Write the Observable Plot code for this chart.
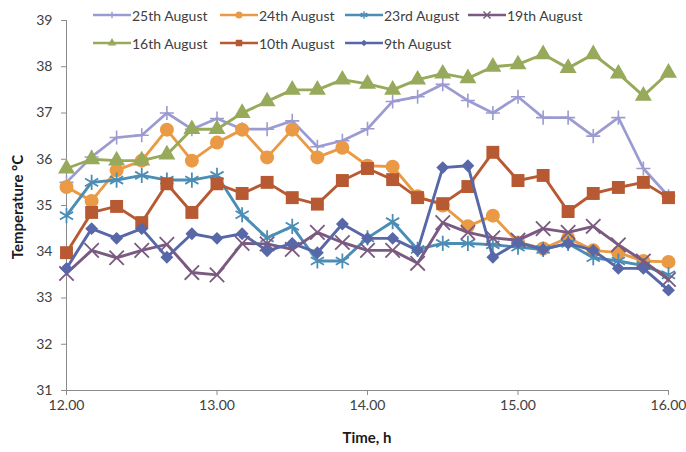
<!DOCTYPE html>
<html>
<head>
<meta charset="utf-8">
<script src="https://cdn.jsdelivr.net/npm/d3@7"></script>
<script src="https://cdn.jsdelivr.net/npm/@observablehq/plot@0.6"></script>
<style>
  body { margin: 0; background: #fff; }
  #chart { position: relative; width: 686px; height: 452px; font-family: Lato, "Open Sans", sans-serif; overflow: hidden; }
  #chart svg.plot { position: absolute; left: 0; top: 0; }
  .legend-item { position: absolute; display: flex; align-items: center; font-size: 14px; color: #404040; white-space: nowrap; }
  .legend-item svg { margin-right: 1px; }
  .axis-title { position: absolute; font-size: 15px; font-weight: bold; color: #1a1a1a; white-space: nowrap; }
</style>
</head>
<body>
<div id="chart"></div>
<script>
// Sampling times (decimal hours, every 10 minutes)
const times = [12.000, 12.167, 12.333, 12.500, 12.667, 12.833,
               13.000, 13.167, 13.333, 13.500, 13.667, 13.833,
               14.000, 14.167, 14.333, 14.500, 14.667, 14.833,
               15.000, 15.167, 15.333, 15.500, 15.667, 15.833, 16.000];

// Temperatures (°C) per measurement day
const aug25 = [35.5, 36.05, 36.47, 36.52, 37.0, 36.65, 36.88, 36.65, 36.65, 36.83, 36.27, 36.4, 36.66,
               37.25, 37.35, 37.62, 37.27, 37.0, 37.35, 36.9, 36.9, 36.5, 36.9, 35.8, 35.2];
const aug24 = [35.4, 35.1, 35.76, 35.97, 36.64, 35.97, 36.36, 36.64, 36.04, 36.64, 36.04, 36.25, 35.86,
               35.84, 35.2, 35.0, 34.55, 34.78, 34.2, 34.07, 34.3, 34.03, 33.98, 33.8, 33.78];
const aug23 = [34.78, 35.5, 35.55, 35.65, 35.55, 35.55, 35.65, 34.8, 34.3, 34.55, 33.8, 33.8, 34.3,
               34.65, 34.05, 34.18, 34.18, 34.15, 34.1, 34.05, 34.18, 33.87, 33.8, 33.7, 33.5];
const aug19 = [33.53, 34.03, 33.87, 34.03, 34.16, 33.55, 33.5, 34.18, 34.17, 34.05, 34.42, 34.2, 34.03,
               34.03, 33.75, 34.63, 34.42, 34.3, 34.25, 34.5, 34.42, 34.55, 34.15, 33.8, 33.4];
const aug16 = [35.8, 36.0, 35.97, 35.97, 36.1, 36.65, 36.65, 37.0, 37.25, 37.5, 37.5, 37.72, 37.63,
               37.5, 37.72, 37.85, 37.75, 38.0, 38.05, 38.27, 37.97, 38.27, 37.85, 37.37, 37.87];
const aug10 = [33.98, 34.85, 34.98, 34.63, 35.47, 34.85, 35.47, 35.26, 35.5, 35.17, 35.03, 35.54, 35.8,
               35.56, 35.17, 35.04, 35.41, 36.15, 35.54, 35.65, 34.87, 35.26, 35.39, 35.5, 35.17];
const aug9  = [33.64, 34.5, 34.29, 34.5, 33.88, 34.39, 34.29, 34.39, 34.02, 34.18, 33.98, 34.6, 34.29,
               34.29, 34.03, 35.82, 35.86, 33.88, 34.2, 34.05, 34.18, 34.03, 33.64, 33.64, 33.17];

const seriesNames = ["25th August", "24th August", "23rd August", "19th August",
                     "16th August", "10th August", "9th August"];
const seriesValues = [aug25, aug24, aug23, aug19, aug16, aug10, aug9];

const xTicks = [12, 13, 14, 15, 16];
const yTicks = [31, 32, 33, 34, 35, 36, 37, 38, 39];

// Drawing style for each series (colour, marker)
const styles = [
  {color: "#9b9bd2", symbol: "plus",     r: 4.6, filled: false, mw: 1.6, lw: 2.7},
  {color: "#ea9a44", symbol: "circle",   r: 7.0, filled: true,  lw: 2.9},
  {color: "#4b8db5", symbol: "asterisk", r: 7.2, filled: false, mw: 1.8, lw: 2.9},
  {color: "#7a5a80", symbol: "times",    r: 6.6, filled: false, mw: 1.8, lw: 2.9},
  {color: "#97a95a", symbol: "triangle", r: 6.3, filled: true,  lw: 2.9},
  {color: "#b75a33", symbol: "square",   r: 7.3, filled: true,  lw: 2.9},
  {color: "#5767a8", symbol: "diamond2", r: 5.8, filled: true,  lw: 2.9}
];

const axisGray = "#8c8c8c";

const marks = [
  Plot.ruleY([31], {stroke: axisGray, strokeWidth: 1}),
  Plot.ruleX([12], {stroke: axisGray, strokeWidth: 1}),
  Plot.axisX({ticks: xTicks, tickSize: 5, tickPadding: 5, stroke: axisGray, fill: "#404040",
              tickFormat: d => d.toFixed(2), label: null}),
  Plot.axisY({ticks: yTicks, tickSize: 5, tickPadding: 9, stroke: axisGray, fill: "#404040", label: null})
];

seriesValues.forEach((vals, k) => {
  const rows = vals.map((v, i) => ({t: times[i], v}));
  const s = styles[k];
  marks.push(Plot.line(rows, {x: "t", y: "v", stroke: s.color, strokeWidth: s.lw, strokeLinejoin: "round"}));
  marks.push(Plot.dot(rows, s.filled
    ? {x: "t", y: "v", symbol: s.symbol, r: s.r, fill: s.color, stroke: "none"}
    : {x: "t", y: "v", symbol: s.symbol, r: s.r, fill: "none", stroke: s.color, strokeWidth: s.mw}));
});

const chart = Plot.plot({
  width: 686,
  height: 452,
  marginLeft: 66,
  marginRight: 18,
  marginTop: 20,
  marginBottom: 62,
  style: {fontFamily: "Lato, 'Open Sans', sans-serif", fontSize: "14px", color: "#404040", background: "transparent", overflow: "visible"},
  x: {domain: [12, 16], label: null},
  y: {domain: [31, 39], label: null},
  marks
});
chart.classList.add("plot");

const root = document.getElementById("chart");
root.appendChild(chart);

// Axis titles
const xTitle = document.createElement("div");
xTitle.className = "axis-title";
xTitle.textContent = "Time, h";
xTitle.style.left = "367px";
xTitle.style.top = "437px";
xTitle.style.transform = "translate(-50%, -50%)";
root.appendChild(xTitle);

const yTitle = document.createElement("div");
yTitle.className = "axis-title";
yTitle.textContent = "Temperature \u00B0C";
yTitle.style.left = "17px";
yTitle.style.top = "207px";
yTitle.style.transform = "translate(-50%, -50%) rotate(-90deg)";
root.appendChild(yTitle);

// Legend: two rows, four columns
const symbolTypes = {
  plus: d3.symbolPlus, circle: d3.symbolCircle, asterisk: d3.symbolAsterisk, times: d3.symbolTimes,
  triangle: d3.symbolTriangle, square: d3.symbolSquare, diamond2: d3.symbolDiamond2
};
const legendCols = [93, 220, 345, 468];
const legendRows = [15, 43];
seriesNames.forEach((name, k) => {
  const s = styles[k];
  const col = k < 4 ? k : k - 4;
  const row = k < 4 ? 0 : 1;
  const item = document.createElement("div");
  item.className = "legend-item";
  item.style.left = legendCols[col] + "px";
  item.style.top = (legendRows[row] - 9) + "px";
  item.style.height = "18px";
  const sw = d3.create("svg").attr("width", 38).attr("height", 14);
  sw.append("line").attr("x1", 0).attr("x2", 38).attr("y1", 7).attr("y2", 7)
    .attr("stroke", s.color).attr("stroke-width", 2.6);
  const size = Math.PI * Math.pow(s.r * 0.5, 2);
  const p = sw.append("path").attr("transform", "translate(19,7)")
    .attr("d", d3.symbol(symbolTypes[s.symbol], size)());
  if (s.filled) p.attr("fill", s.color);
  else p.attr("fill", "none").attr("stroke", s.color).attr("stroke-width", 1.4);
  item.appendChild(sw.node());
  const label = document.createElement("span");
  label.textContent = name;
  item.appendChild(label);
  root.appendChild(item);
});
</script>
</body>
</html>
